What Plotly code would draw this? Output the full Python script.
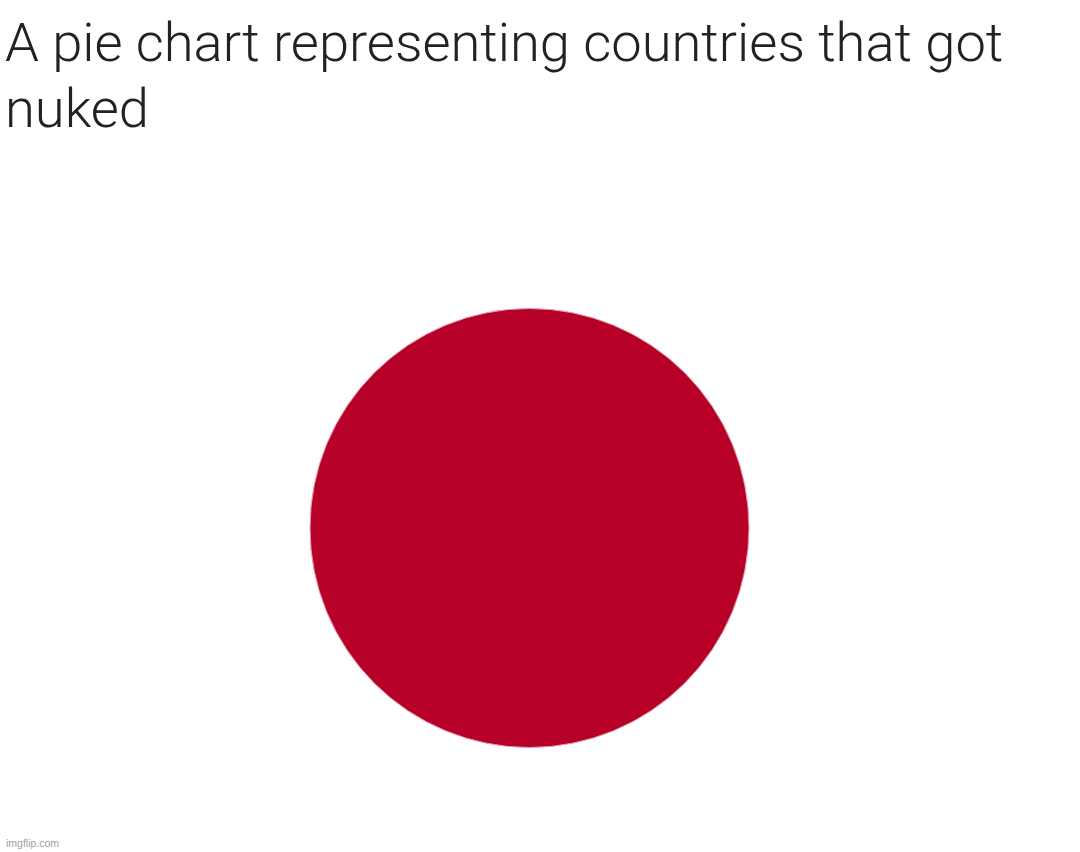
import plotly.graph_objects as go

# Data
countries = ["Japan"]
shares = [100]
slice_colors = ["#b70028"]
title_lines = ["A pie chart representing countries that got", "nuked"]
title_tops = [9, 75]
watermark = "imgflip.com"

WIDTH = 1080
HEIGHT = 852

fig = go.Figure(go.Pie(
    labels=countries,
    values=shares,
    marker=dict(colors=slice_colors, line=dict(width=1, color='#e8a0b0')),
    textinfo='none',
    sort=False,
    showlegend=False,
    hoverinfo='label+percent',
    domain=dict(x=[309 / WIDTH, 750 / WIDTH], y=[1 - 747.5 / HEIGHT, 1 - 308.5 / HEIGHT]),
))

# One annotation per line, the line spacing is tighter than plotly's <br>
for line, top in zip(title_lines, title_tops):
    fig.add_annotation(
        text=line,
        x=3 / WIDTH, y=1 - top / HEIGHT, xref='paper', yref='paper',
        xanchor='left', yanchor='top', align='left', showarrow=False,
        font=dict(family="Roboto, Liberation Sans, sans-serif", size=54.3, color='#222222', weight=300),
    )

fig.add_annotation(
    text=watermark,
    x=4 / WIDTH, y=1 - 843 / HEIGHT, xref='paper', yref='paper',
    xanchor='left', yanchor='middle', showarrow=False,
    font=dict(family="Liberation Sans, Arial, sans-serif", size=10.5, color='#a0a0a0'),
)

fig.update_layout(
    width=WIDTH,
    height=HEIGHT,
    margin=dict(l=0, r=0, t=0, b=0),
    paper_bgcolor='white',
)

# the page's default body margin would push the figure 8px in
fig.write_html(
    "out.html",
    config={'displayModeBar': False},
    post_script="document.body.style.margin = '0';",
)
